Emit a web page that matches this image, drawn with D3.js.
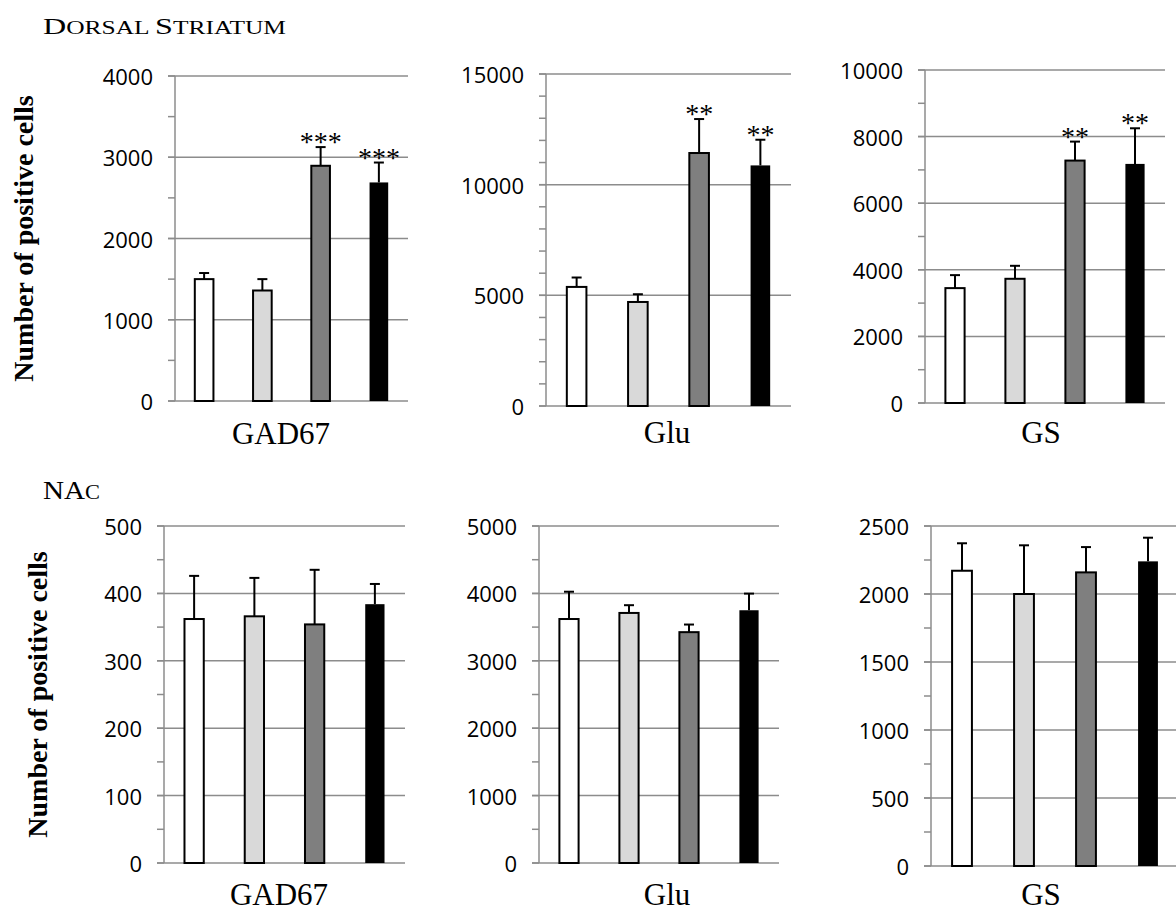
<!DOCTYPE html>
<html>
<head>
<meta charset="utf-8">
<script src="https://cdn.jsdelivr.net/npm/d3@7"></script>
<style>
  html, body { margin: 0; padding: 0; background: #fff; }
  svg { display: block; }
</style>
</head>
<body>
<svg id="chart" width="1176" height="912"></svg>
<script>
// ---- data ----
const groups = ["group1", "group2", "group3", "group4"];
const groupFills = ["#ffffff", "#d9d9d9", "#7f7f7f", "#000000"];
const markers = ["GAD67", "Glu", "GS"];

// Dorsal striatum: mean and SEM per marker (one entry per group)
const dsGAD67 = [1500, 1360, 2895, 2690];
const dsGAD67Err = [75, 140, 230, 245];
const dsGlu = [5380, 4700, 11430, 10870];
const dsGluErr = [425, 350, 1535, 1160];
const dsGS = [3450, 3730, 7280, 7180];
const dsGSErr = [390, 390, 570, 1070];
const dsStars = [["", "", "***", "***"], ["", "", "**", "**"], ["", "", "**", "**"]];

// Nucleus accumbens
const nacGAD67 = [362, 366, 354, 384];
const nacGAD67Err = [64, 57, 81, 30];
const nacGlu = [3620, 3710, 3425, 3750];
const nacGluErr = [405, 115, 113, 247];
const nacGS = [2171, 2000, 2159, 2240];
const nacGSErr = [202, 358, 186, 174];
const nacStars = [["", "", "", ""], ["", "", "", ""], ["", "", "", ""]];

// axis maxima, major and minor tick steps
const dsAxisMax = [4000, 15000, 10000];
const dsMajor = [1000, 5000, 2000];
const dsMinor = [500, 1000, 1000];
const nacAxisMax = [500, 5000, 2500];
const nacMajor = [100, 1000, 500];
const nacMinor = [50, 500, 250];

// ---- layout ----
const svg = d3.select("#chart");
const gridColor = "#8c8c8c";
const serif = "'Liberation Serif', 'Times New Roman', serif";
const sans = "'Open Sans', 'Noto Sans', sans-serif";

const rows = [
  {
    means: [dsGAD67, dsGlu, dsGS], errs: [dsGAD67Err, dsGluErr, dsGSErr], stars: dsStars,
    max: dsAxisMax, major: dsMajor, minor: dsMinor,
    frames: [
      { x0: 175, x1: 408, yTop: 76, y0: 401, labelX: 281, labelY: 444 },
      { x0: 546, x1: 791, yTop: 74, y0: 406, labelX: 667, labelY: 443 },
      { x0: 925, x1: 1165, yTop: 70, y0: 403, labelX: 1041, labelY: 443 }
    ],
    yLabelX: 33
  },
  {
    means: [nacGAD67, nacGlu, nacGS], errs: [nacGAD67Err, nacGluErr, nacGSErr], stars: nacStars,
    max: nacAxisMax, major: nacMajor, minor: nacMinor,
    frames: [
      { x0: 164, x1: 405, yTop: 526, y0: 863, labelX: 279, labelY: 905 },
      { x0: 539, x1: 779, yTop: 526, y0: 863, labelX: 667, labelY: 905 },
      { x0: 931, x1: 1179, yTop: 526, y0: 866, labelX: 1041, labelY: 905 }
    ],
    yLabelX: 47
  }
];

// region headings (small caps set by hand)
function smallCaps(sel, parts, x, y, big, small, len) {
  const t = sel.append("text").attr("x", x).attr("y", y)
    .attr("font-family", serif).attr("fill", "#000")
    .attr("textLength", len).attr("lengthAdjust", "spacingAndGlyphs");
  parts.forEach(p => t.append("tspan").attr("font-size", p[1] ? big : small).text(p[0]));
}
smallCaps(svg, [["D", true], ["ORSAL ", false], ["S", true], ["TRIATUM", false]], 43, 34, 24, 19, 243);
smallCaps(svg, [["NA", true], ["C", false]], 43, 499, 26, 20, 57);

rows.forEach(row => {
  row.frames.forEach((f, i) => {
    const g = svg.append("g");
    const y = d3.scaleLinear().domain([0, row.max[i]]).range([f.y0, f.yTop]);
    const x = d3.scaleBand().domain(groups).range([f.x0, f.x1])
      .paddingInner(0.68).paddingOuter(0.34);

    const majors = d3.range(0, row.max[i] + 1e-9, row.major[i]);
    const minors = d3.range(0, row.max[i] + 1e-9, row.minor[i]);

    // horizontal gridlines at major ticks
    g.selectAll("line.grid").data(majors).join("line")
      .attr("x1", f.x0 - 7).attr("x2", f.x1)
      .attr("y1", d => y(d)).attr("y2", d => y(d))
      .attr("stroke", gridColor).attr("stroke-width", 1.5);

    // minor ticks on the left of the axis
    g.selectAll("line.minor").data(minors).join("line")
      .attr("x1", f.x0 - 7).attr("x2", f.x0)
      .attr("y1", d => y(d)).attr("y2", d => y(d))
      .attr("stroke", gridColor).attr("stroke-width", 1.5);

    // vertical axis
    g.append("line").attr("x1", f.x0).attr("x2", f.x0)
      .attr("y1", f.yTop).attr("y2", f.y0)
      .attr("stroke", gridColor).attr("stroke-width", 1.5);

    // tick labels
    g.selectAll("text.tick").data(majors).join("text")
      .attr("x", f.x0 - 22).attr("y", d => y(d))
      .attr("text-anchor", "end").attr("dominant-baseline", "central")
      .attr("font-family", sans).attr("font-size", 22).attr("fill", "#000")
      .text(d => d);

    const means = row.means[i], errs = row.errs[i];

    // error bars (upper half)
    const eb = g.selectAll("g.err").data(groups).join("g");
    eb.append("line")
      .attr("x1", (d) => x(d) + x.bandwidth() / 2).attr("x2", d => x(d) + x.bandwidth() / 2)
      .attr("y1", (d, k) => y(means[k])).attr("y2", (d, k) => y(means[k] + errs[k]))
      .attr("stroke", "#000").attr("stroke-width", 2);
    eb.append("line")
      .attr("x1", d => x(d) + x.bandwidth() / 2 - 5).attr("x2", d => x(d) + x.bandwidth() / 2 + 5)
      .attr("y1", (d, k) => y(means[k] + errs[k])).attr("y2", (d, k) => y(means[k] + errs[k]))
      .attr("stroke", "#000").attr("stroke-width", 2);

    // bars
    g.selectAll("rect.bar").data(groups).join("rect")
      .attr("x", d => x(d)).attr("width", x.bandwidth())
      .attr("y", (d, k) => y(means[k])).attr("height", (d, k) => y(0) - y(means[k]))
      .attr("fill", (d, k) => groupFills[k])
      .attr("stroke", (d, k) => k === 3 ? "none" : "#000").attr("stroke-width", 2);

    // significance marks
    g.selectAll("text.star").data(groups).join("text")
      .attr("x", d => x(d) + x.bandwidth() / 2)
      .attr("y", (d, k) => y(means[k] + errs[k]) + 4)
      .attr("text-anchor", "middle")
      .attr("font-family", serif).attr("font-size", 28).attr("fill", "#000")
      .text((d, k) => row.stars[i][k]);

    // marker name
    g.append("text").attr("x", f.labelX).attr("y", f.labelY)
      .attr("text-anchor", "middle").attr("font-family", serif)
      .attr("font-size", 31).attr("fill", "#000").text(markers[i]);

    // y-axis title on the first panel of the row
    if (i === 0) {
      const cy = (f.yTop + f.y0) / 2;
      svg.append("text")
        .attr("transform", `translate(${row.yLabelX},${cy}) rotate(-90)`)
        .attr("text-anchor", "middle").attr("font-family", serif)
        .attr("font-weight", "bold").attr("font-size", 28).attr("fill", "#000")
        .text("Number of positive cells");
    }
  });
});
</script>
</body>
</html>
